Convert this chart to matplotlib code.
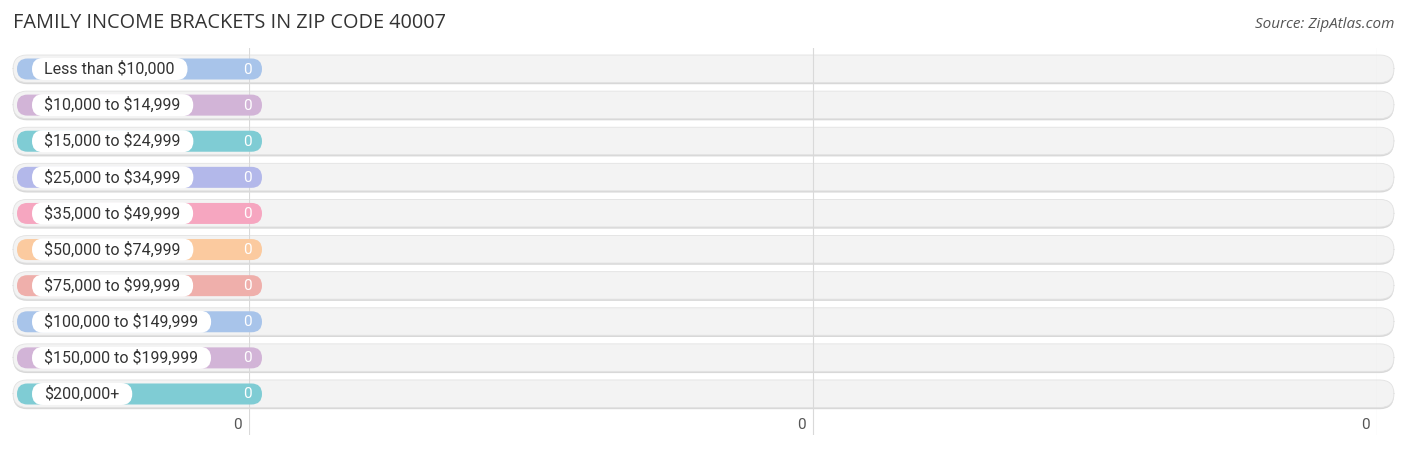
import matplotlib.pyplot as plt
from matplotlib.patches import FancyBboxPatch

plt.rcParams['text.parse_math'] = False

categories = ["Less than $10,000", "$10,000 to $14,999", "$15,000 to $24,999",
              "$25,000 to $34,999", "$35,000 to $49,999", "$50,000 to $74,999",
              "$75,000 to $99,999", "$100,000 to $149,999", "$150,000 to $199,999",
              "$200,000+"]
values = [0, 0, 0, 0, 0, 0, 0, 0, 0, 0]
colors = ["#a8c4ea", "#d2b4d7", "#7fccd4", "#b3b8ea", "#f6a6c0",
          "#fbca9f", "#efafab", "#a8c4ea", "#d2b4d7", "#7fccd4"]
tick_pos = [0, 0.5, 1]
tick_labels = ["0", "0", "0"]

W, H = 1406, 450
fig = plt.figure(figsize=(W / 100, H / 100), dpi=100)
fig.patch.set_facecolor("white")

# axes spans the gridline area; 0 sits at x=249px, 1 at x=1377px
ax = fig.add_axes([249 / W, (H - 435) / H, (1377 - 249) / W, (435 - 48) / H])
px_x = 1 / 1128.0          # data units per pixel in x
row_px = 36.1
ax.set_xlim(0, 1)
ax.set_ylim(9 + (435 - 394) / row_px, -(69 - 48) / row_px)
ax.axis("off")
px_y = 1 / row_px
aspect = px_y / px_x

bg_left = 0 - (249 - 13) * px_x
bg_right = 1 + (1394 - 1377) * px_x
bar_left = 0 - (249 - 17) * px_x
stub = 13 * px_x            # minimum visible bar length past zero

for x in tick_pos:
    ax.axvline(x, color="#d9d9d9", lw=0.8, zorder=2.5)

for i, (cat, val, col) in enumerate(zip(categories, values, colors)):
    # shadow + background capsule
    h = 28 * px_y
    ax.add_patch(FancyBboxPatch((bg_left, i - h / 2 + 1.2 * px_y), bg_right - bg_left, h,
                                boxstyle="round,pad=0,rounding_size=%f" % (14 * px_x),
                                mutation_aspect=aspect, fc="#d8d8d8", ec="none",
                                clip_on=False, zorder=1))
    ax.add_patch(FancyBboxPatch((bg_left, i - h / 2), bg_right - bg_left, h - 0.5 * px_y,
                                boxstyle="round,pad=0,rounding_size=%f" % (14 * px_x),
                                mutation_aspect=aspect, fc="#f3f3f3", ec="#e2e2e2", lw=0.6,
                                clip_on=False, zorder=2))
    # colored bar
    bh = 21 * px_y
    end = max(val, 0) + stub
    ax.add_patch(FancyBboxPatch((bar_left, i - bh / 2), end - bar_left, bh,
                                boxstyle="round,pad=0,rounding_size=%f" % (10.5 * px_x),
                                mutation_aspect=aspect, fc=col, ec="none",
                                clip_on=False, zorder=3))
    ax.text(end - 10 * px_x, i + 0.5 * px_y, f"{val:,}", ha="right", va="center",
            fontsize=11, color="white", family="Roboto", zorder=6)

# label pills sized to text
fig.canvas.draw()
renderer = fig.canvas.get_renderer()
inv = ax.transData.inverted()
for i, cat in enumerate(categories):
    t = ax.text(bar_left + (44 - 17) * px_x, i, cat, ha="left", va="center",
                fontsize=11.5, color="#333333", family="Roboto", zorder=5, clip_on=False)
    bb = t.get_window_extent(renderer)
    x1 = inv.transform((bb.x1, 0))[0]
    lh = 22 * px_y
    x0 = bar_left + (32 - 17) * px_x
    ax.add_patch(FancyBboxPatch((x0, i - lh / 2), x1 + 13 * px_x - x0, lh,
                                boxstyle="round,pad=0,rounding_size=%f" % (11 * px_x),
                                mutation_aspect=aspect, fc="white", ec="none",
                                clip_on=False, zorder=4))

for x, lab in zip(tick_pos, tick_labels):
    ax.text(x - 7 * px_x, 9 + (425 - 394) * px_y, lab, ha="right", va="center",
            fontsize=11, color="#555555", family="Roboto")

fig.text(13 / W, 1 - 23 / H, "FAMILY INCOME BRACKETS IN ZIP CODE 40007", ha="left", va="center",
         fontsize=14.3, color="#333333", family="Open Sans")
fig.text(1394 / W, 1 - 25 / H, "Source: ZipAtlas.com", ha="right", va="center",
         fontsize=11, color="#555555", style="italic", family="Open Sans")

fig.savefig("out.png", dpi=100, facecolor="white")
